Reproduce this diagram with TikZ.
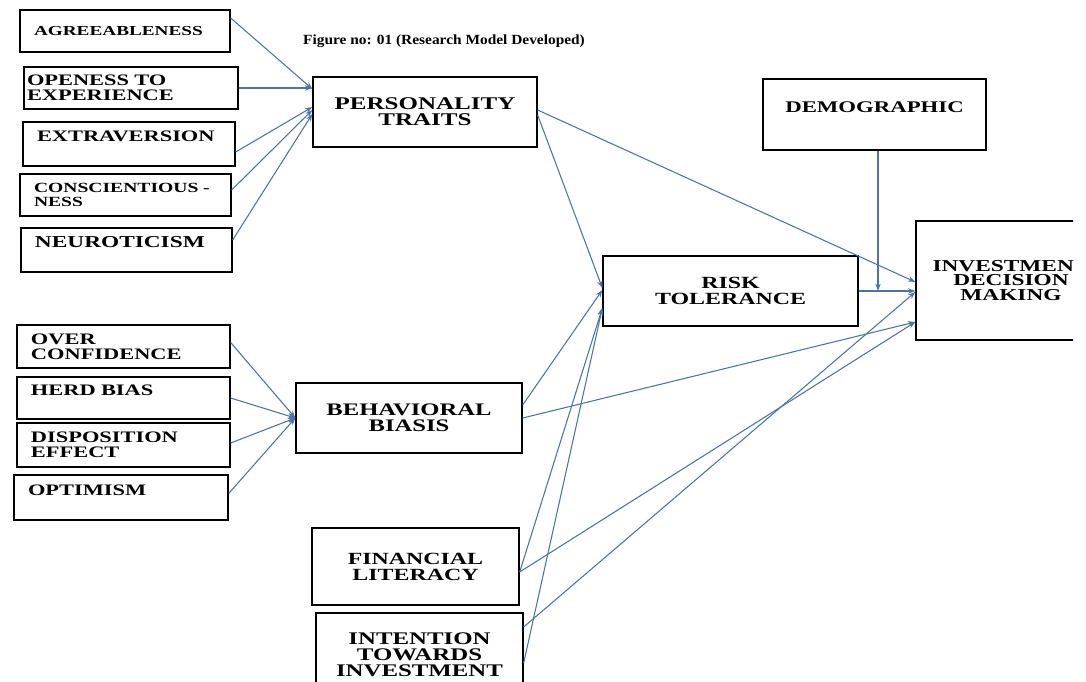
\documentclass[tikz,border=0pt]{standalone}
\usepackage{fontspec}
\setmainfont{Liberation Serif}[FakeStretch=1.4]
\newfontfamily\titlefont{Liberation Serif}[FakeStretch=1.1]
\usetikzlibrary{arrows.meta}
\definecolor{linkblue}{RGB}{74,116,170}
\tikzstyle{trait} = [draw, line width=1pt, align=left, inner xsep=10.5pt, inner ysep=2pt, font=\bfseries\fontsize{12}{11.5}\selectfont]
\tikzstyle{factor} = [draw, line width=1pt, align=center, inner sep=2pt, font=\bfseries\fontsize{13}{12}\selectfont]
\tikzstyle{link} = [draw=linkblue, line width=0.8pt, -{Stealth[length=5.5pt,width=4pt]}]

\begin{document}
\begin{tikzpicture}[x=0.75pt, y=-0.75pt]
\useasboundingbox (0,0) rectangle (1086,682);
\clip (0,0) rectangle (1073,682);

\node[font=\titlefont\bfseries\fontsize{10.5}{12}\selectfont] (title) at (444,41)
    {Figure no: 01 (Research Model Developed)};

\node[trait, text width=136.5pt, minimum height=31.5pt, font=\bfseries\fontsize{10.3}{11}\selectfont]
    (agree) at (125,31) {AGREEABLENESS};
\node[trait, text width=156pt, inner xsep=2.25pt, minimum height=31.5pt]
    (open) at (131,88) {OPENESS TO\\EXPERIENCE};
\node[trait, text width=138pt, minimum height=33pt]
    (extra) at (129,144) {EXTRAVERSION\\~};
\node[trait, text width=137.25pt, minimum height=31.5pt, font=\bfseries\fontsize{10.5}{11}\selectfont]
    (consc) at (125.5,195) {CONSCIENTIOUS -\\NESS};
\node[trait, text width=137.25pt, minimum height=33pt, font=\bfseries\fontsize{12.5}{11.5}\selectfont]
    (neuro) at (126.5,250) {NEUROTICISM\\~};

\node[trait, text width=138.75pt, minimum height=32.25pt]
    (over) at (123.5,346.5) {OVER\\CONFIDENCE};
\node[trait, text width=138.75pt, minimum height=31.5pt]
    (herd) at (123.5,398) {HERD BIAS\\~};
\node[trait, text width=138.75pt, minimum height=33pt]
    (disp) at (123.5,445) {DISPOSITION\\EFFECT};
\node[trait, text width=139.5pt, minimum height=33.75pt]
    (opti) at (121,497.5) {OPTIMISM\\~};

\node[factor, minimum width=168pt, minimum height=52.5pt, font=\bfseries\fontsize{13.4}{11.8}\selectfont]
    (pers) at (425,112) {PERSONALITY\\TRAITS};
\node[factor, minimum width=169.5pt, minimum height=52.5pt, font=\bfseries\fontsize{13.2}{11.8}\selectfont]
    (behav) at (409,418) {BEHAVIORAL\\BIASIS};
\node[factor, minimum width=155.25pt, minimum height=57.75pt, font=\bfseries\fontsize{12.8}{12}\selectfont]
    (fin) at (415.5,566.5) {FINANCIAL\\LITERACY};
\node[factor, minimum width=155.25pt, minimum height=63pt, font=\bfseries\fontsize{13.3}{12}\selectfont]
    (intent) at (419.5,655) {INTENTION\\TOWARDS\\INVESTMENT};
\node[factor, minimum width=191.25pt, minimum height=52.5pt, font=\bfseries\fontsize{12.8}{12}\selectfont]
    (risk) at (730.5,291) {RISK\\TOLERANCE};
\node[factor, minimum width=167.25pt, minimum height=53.25pt, font=\bfseries\fontsize{12.2}{11.5}\selectfont]
    (demo) at (874.5,114.5) {DEMOGRAPHIC\\~};
\node[factor, minimum width=142.5pt, minimum height=89.25pt, font=\bfseries\fontsize{12.5}{10.8}\selectfont]
    (inv) at (1011,280.5) {INVESTMENT\\DECISION\\MAKING};

\draw[link] ([shift={(0,-13)}]agree.east) -- ([shift={(0,-23)}]pers.west);
\draw[link] (open.east) -- (open.east -| pers.west);
\draw[link] ([shift={(0,8)}]extra.east) -- ([shift={(0,-5)}]pers.west);
\draw[link] ([shift={(0,-5)}]consc.east) -- ([shift={(0,-2)}]pers.west);
\draw[link] ([shift={(0,-10)}]neuro.east) -- ([shift={(0,2)}]pers.west);

\foreach \src/\dy in {over/-4, herd/0, disp/-2, opti/-4}
    \draw[link] ([shift={(0,\dy)}]\src.east) -- (behav.west);

\draw[link] ([shift={(0,3)}]pers.east) -- ([shift={(0,-3)}]risk.west);
\draw[link] ([shift={(0,-2)}]pers.east) -- ([shift={(0,1.5)}]inv.west);
\draw[link] ([shift={(0,-13)}]behav.east) -- ([shift={(0,-1)}]risk.west);
\draw[link] (behav.east) -- ([shift={(0,41.5)}]inv.west);
\draw[link] ([shift={(0,5.5)}]fin.east) -- ([shift={(0,17)}]risk.west);
\draw[link] ([shift={(0,5.5)}]fin.east) -- ([shift={(0,41.5)}]inv.west);
\draw[link] ([shift={(0,8)}]intent.east) -- ([shift={(0,17)}]risk.west);
\draw[link] ([shift={(0,-28)}]intent.east) -- ([shift={(0,11.5)}]inv.west);
\draw[link] (risk.east) -- (risk.east -| inv.west);
\coordinate (demodrop) at ([shift={(3.5,0)}]demo.south);
\draw[link] (demodrop) -- (demodrop |- risk.east);
\end{tikzpicture}
\end{document}
